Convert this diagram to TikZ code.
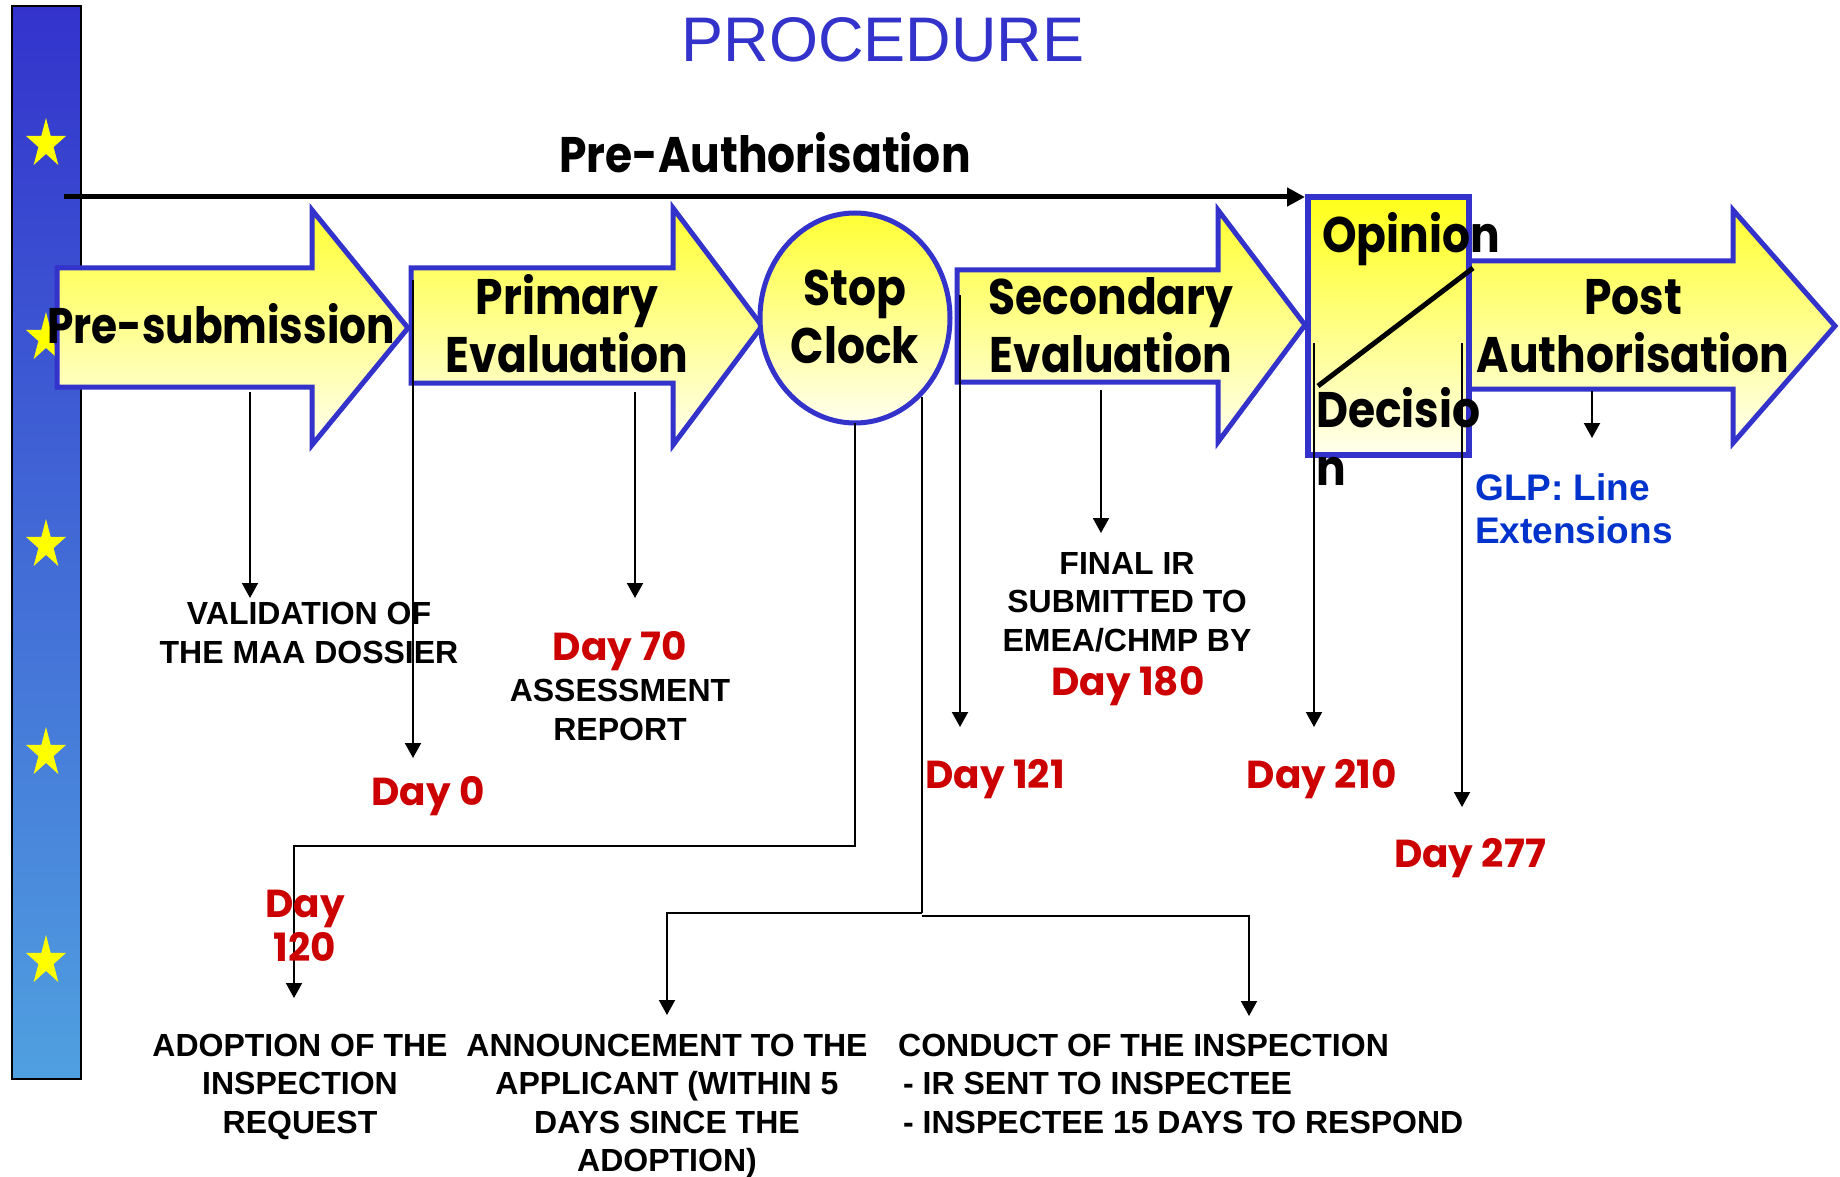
\documentclass[tikz,border=0pt]{standalone}
\usepackage{fontspec}
\setmainfont{Liberation Sans}
\newfontfamily\comic{Poppins}[FakeStretch=0.88]
\newfontfamily\comicnarrow{Poppins}[FakeStretch=0.845]
\newfontfamily\comicday{Poppins}
\usetikzlibrary{arrows.meta}
\definecolor{barTop}{HTML}{3333CC}
\definecolor{barBot}{HTML}{50A0E0}
\definecolor{edgeBlue}{HTML}{3333CC}
\definecolor{yelTop}{HTML}{FFFF33}
\definecolor{yelBot}{HTML}{FFFFEE}
\definecolor{starYellow}{HTML}{FFFF00}
\definecolor{dayRed}{HTML}{CC0000}
\definecolor{glpBlue}{HTML}{0033CC}
\definecolor{titleBlue}{HTML}{3333CC}
\tikzset{
  stage/.style={draw=edgeBlue, line width=5pt, line join=miter, top color=yelTop, bottom color=yelBot},
  conn/.style={line width=2pt, -{Triangle[width=16pt,length=15pt]}},
  plainline/.style={line width=2pt},
  stagetext/.style={font=\comic\bfseries\fontsize{50}{58}\selectfont, anchor=base, inner sep=0pt},
  daytext/.style={font=\comicday\bfseries\fontsize{39}{44}\selectfont, text=dayRed, anchor=base, inner sep=0pt, align=center},
  captext/.style={font=\bfseries\fontsize{32}{38.5}\selectfont, align=center, anchor=base, inner sep=0pt},
  starshape/.style={fill=starYellow},
}
\begin{document}
\begin{tikzpicture}[x=1pt,y=-1pt]
\useasboundingbox (0,0) rectangle (1840,1177);
\fill[white] (0,0) rectangle (1840,1177);

% side bar with stars
\path[draw=black, line width=1.5pt, top color=barTop, bottom color=barBot] (12,6) rectangle (81,1079);
\foreach \sy in {144,338,545,753,961}{
  \fill[starshape, shift={(46,\sy)}] (270:21 and 26) -- (306:8 and 9.9) -- (342:21 and 26) -- (18:8 and 9.9)
    -- (54:21 and 26) -- (90:8 and 9.9) -- (126:21 and 26) -- (162:8 and 9.9) -- (198:21 and 26) -- (234:8 and 9.9) -- cycle;
}

% title
\node[font=\fontsize{63}{63}\selectfont, text=titleBlue, anchor=base, inner sep=0pt] (title) at (883,62) {PROCEDURE};

% pre-authorisation arrow
\node[stagetext] (preauth) at (765,173) {Pre-Authorisation};
\coordinate (paStart) at (64,197);
\coordinate (paEnd) at (1305,197);
\draw[line width=5pt, -{Triangle[width=18pt,length=18pt]}] (paStart) -- (paEnd);

% stage shapes
\path[stage] (57,268) -- (312,268) -- (312,210) -- (408,328) -- (312,445) -- (312,387) -- (57,387) -- cycle;
\path[stage] (411,268) -- (673,268) -- (673,208) -- (762,326) -- (673,445) -- (673,383) -- (411,383) -- cycle;
\path[stage] (957,270) -- (1218,270) -- (1218,210) -- (1305,325) -- (1218,442) -- (1218,382) -- (957,382) -- cycle;
\path[stage] (1468,261) -- (1733,261) -- (1733,210) -- (1835,326) -- (1733,443) -- (1733,389) -- (1468,389) -- cycle;
\path[stage] (855,318) ellipse [x radius=95, y radius=105];
\path[stage, line width=6pt, top color=yellow!90!white, bottom color=yelBot] (1308,197) rectangle (1469,455);
\draw[line width=5pt] (1318,386) -- (1473,268);

% stage texts
\node[stagetext, font=\comicnarrow\bfseries\fontsize{50}{58}\selectfont] (tpresub) at (221,343) {Pre-submission};
\node[stagetext, align=center] (tprim) at (567,372) {Primary\\Evaluation};
\node[stagetext, align=center] (tstop) at (855,363) {Stop\\Clock};
\node[stagetext, align=center] (tsec) at (1111,372) {Secondary\\Evaluation};
\node[stagetext] (topin) at (1411,253) {Opinion};
\node[stagetext, align=left, anchor=base west] (tdec) at (1316,485) {Decisio\\n};
\node[stagetext, align=center] (tpost) at (1633,372) {Post\\Authorisation};

% connector points
\coordinate (a1s) at (250,392);  \coordinate (a1e) at (250,598);
\coordinate (a2s) at (413,280);  \coordinate (a2e) at (413,758);
\coordinate (a3s) at (635,392);  \coordinate (a3e) at (635,598);
\coordinate (s1a) at (855,423);  \coordinate (s1b) at (855,846);
\coordinate (s1c) at (294,846);  \coordinate (s1e) at (294,998);
\coordinate (s2a) at (922,397);  \coordinate (s2b) at (922,913);
\coordinate (s2c) at (667,913);  \coordinate (s2e) at (667,1015);
\coordinate (s2d) at (922,916);  \coordinate (s2f) at (1249,916);
\coordinate (s2g) at (1249,1016);
\coordinate (a4s) at (960,295);  \coordinate (a4e) at (960,727);
\coordinate (a5s) at (1101,390); \coordinate (a5e) at (1101,533);
\coordinate (a6s) at (1314,343); \coordinate (a6e) at (1314,727);
\coordinate (a7s) at (1462,343); \coordinate (a7e) at (1462,807);
\coordinate (a8s) at (1592,391); \coordinate (a8e) at (1592,438);

\draw[conn] (a1s) -- (a1e);
\draw[conn] (a2s) -- (a2e);
\draw[conn] (a3s) -- (a3e);
\draw[conn] (s1a) -- (s1b) -- (s1c) -- (s1e);
\draw[plainline] (s2a) -- (s2b);
\draw[conn] (s2b) -- (s2c) -- (s2e);
\draw[conn] (s2d) -- (s2f) -- (s2g);
\draw[conn] (a4s) -- (a4e);
\draw[conn] (a5s) -- (a5e);
\draw[conn] (a6s) -- (a6e);
\draw[conn] (a7s) -- (a7e);
\draw[conn] (a8s) -- (a8e);

% labels
\node[captext] (valid) at (309,663) {VALIDATION OF\\THE MAA DOSSIER};
\node[daytext] (d70) at (620,660) {Day 70};
\node[captext] (assess) at (620,740) {ASSESSMENT\\REPORT};
\node[daytext] (d0) at (428,805) {Day 0};
\node[daytext] (d120) at (305,961) {Day\\120};
\node[daytext] (d121) at (995,788) {Day 121};
\node[captext] (final) at (1127,651) {FINAL IR\\SUBMITTED TO\\EMEA/CHMP BY};
\node[daytext] (d180) at (1128,695) {Day 180};
\node[daytext] (d210) at (1322,788) {Day 210};
\node[daytext] (d277) at (1470,867) {Day 277};
\node[font=\bfseries\fontsize{37}{43}\selectfont, text=glpBlue, align=left, anchor=base west, inner sep=0pt] (glp) at (1475,543) {GLP: Line\\Extensions};
\node[captext] (adopt) at (300,1133) {ADOPTION OF THE\\INSPECTION\\REQUEST};
\node[captext] (announce) at (667,1171.5) {ANNOUNCEMENT TO THE\\APPLICANT (WITHIN 5\\DAYS SINCE THE\\ADOPTION)};
\node[captext, align=left, anchor=base west] (conduct) at (898,1133) {CONDUCT OF THE INSPECTION\\\hspace*{5pt}- IR SENT TO INSPECTEE\\\hspace*{5pt}- INSPECTEE 15 DAYS TO RESPOND};
\end{tikzpicture}
\end{document}
